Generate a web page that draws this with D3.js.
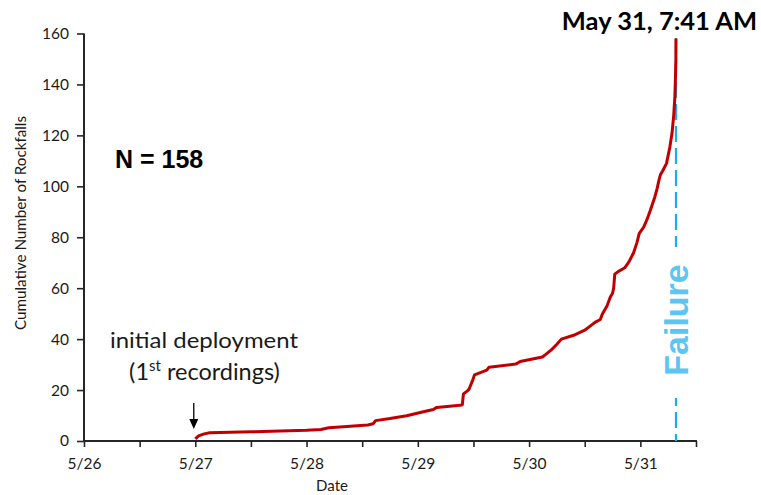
<!DOCTYPE html>
<html><head><meta charset="utf-8">
<script src="https://cdn.jsdelivr.net/npm/d3@7"></script>
<style>body{margin:0;background:#fff}svg{display:block}</style>
</head><body>
<svg id="c" width="761" height="495"></svg>
<script>
// Days since 5/26 00:00
const eventDays = [1.00,1.03,1.08,1.13,1.5,2.0,2.13,2.2,2.3,2.55,2.6,2.62,2.75,2.9,3.05,3.14,3.17,3.38,3.40,3.41,3.44,3.46,3.49,3.51,3.62,3.64,3.88,3.92,4.12,4.15,4.20,4.25,4.29,4.40,4.50,4.56,4.60,4.64,4.66,4.70,4.73,4.75,4.76,4.77,4.80,4.86,4.90,4.94,4.97,4.99,5.03,5.06,5.09,5.13,5.15,5.165,5.18,5.20,5.235,5.265,5.285,5.30,5.31,5.315,5.319,5.320];
const cumulative = [0.8,2,2.8,3.2,3.6,4.2,4.5,5.2,5.5,6.3,6.8,8,8.8,9.9,11.5,12.4,13.2,14,14.2,18.5,19.5,20.3,23.5,26,27.8,29,30.2,31.2,33,34,35.8,38,40,41.5,43.5,45.5,46.8,47.7,50,53,56.5,58,60,65.5,66.5,68,70.5,74,78,81.5,84,87,90.6,95.8,99,102,104.5,106,109,115.4,121,128,135,142,150,158];
const xTickDays = [0,1,2,3,4,5];
const xTickLabels = ["5/26","5/27","5/28","5/29","5/30","5/31"];
const yTicks = [0,20,40,60,80,100,120,140,160];
const failureDay = 5 + (7*60+41)/1440;
const deployDay = 1.0;

const svg = d3.select("#c");
const x = d3.scaleLinear().domain([0,5.5]).range([84,696]);
const y = d3.scaleLinear().domain([0,160]).range([441,33.5]);
const axisColor = "#262626";
const calib = "Lato, 'Open Sans', sans-serif";

// x axis
const xAxis = d3.axisBottom(x).tickValues(d3.range(0,5.51,0.5)).tickSize(6)
  .tickFormat(d => { const i = xTickDays.indexOf(d); return i>=0 ? xTickLabels[i] : ""; });
const gx = svg.append("g").attr("transform",`translate(0,${y(0)})`).call(xAxis);
gx.select(".domain").attr("stroke",axisColor).attr("stroke-width",2).attr("d",`M${x(0)},0H${x(5.5)+1}`);
gx.selectAll(".tick line").attr("stroke",axisColor).attr("stroke-width",1.6);
gx.selectAll(".tick text").attr("font-family",calib).attr("font-size",15.5).attr("fill","#1a1a1a").attr("dy","1.2em");

// y axis
const yAxis = d3.axisLeft(y).tickValues(yTicks).tickSize(7).tickPadding(8);
const gy = svg.append("g").attr("transform",`translate(${x(0)},0)`).call(yAxis);
gy.select(".domain").attr("stroke",axisColor).attr("stroke-width",2).attr("d",`M0,${y(160)}V${y(0)+1}`);
gy.selectAll(".tick line").attr("stroke",axisColor).attr("stroke-width",1.6);
gy.selectAll(".tick text").attr("font-family",calib).attr("font-size",15.5).attr("fill","#1a1a1a");

// axis titles
svg.append("text").attr("x",332).attr("y",491).attr("text-anchor","middle")
  .attr("font-family",calib).attr("font-size",15).attr("fill","#1a1a1a").text("Date");
svg.append("text").attr("transform","translate(26,223) rotate(-90)").attr("text-anchor","middle")
  .attr("font-family",calib).attr("font-size",15).attr("fill","#1a1a1a")
  .attr("textLength",214).attr("lengthAdjust","spacingAndGlyphs").text("Cumulative Number of Rockfalls");

// failure dashed line
svg.append("line").attr("x1",x(failureDay)).attr("x2",x(failureDay)).attr("y1",38).attr("y2",y(0))
  .attr("stroke","#1ab0e6").attr("stroke-width",2.2).attr("stroke-dasharray","16,6");
svg.append("rect").attr("x",660).attr("y",247).attr("width",34).attr("height",151).attr("fill","#fff");
svg.append("text").attr("transform",`translate(688,320) rotate(-90)`).attr("text-anchor","middle")
  .attr("font-family","'Liberation Sans', Arial, sans-serif").attr("font-weight","bold").attr("font-size",34)
  .attr("fill","#5bc6f2").text("Failure");

// data line
const pts = eventDays.map((d,i)=>[d,cumulative[i]]);
svg.append("path").datum(pts).attr("fill","none").attr("stroke","#c00000").attr("stroke-width",3)
  .attr("stroke-linejoin","round")
  .attr("d", d3.line().x(d=>x(d[0])).y(d=>y(d[1])));

// labels
svg.append("text").attr("x",757).attr("y",30).attr("text-anchor","end").attr("font-family",calib).attr("font-weight","bold")
  .attr("font-size",25.5).attr("fill","#000")
  .text("May 31, 7:41 AM");
svg.append("text").attr("x",115).attr("y",168).attr("font-family","'Liberation Sans', Arial, sans-serif")
  .attr("font-weight","bold").attr("font-size",25).attr("fill","#000").text("N = 158");

svg.append("text").attr("x",110).attr("y",348).attr("font-family",calib).attr("font-size",22)
  .attr("fill","#1a1a1a").attr("textLength",188).attr("lengthAdjust","spacingAndGlyphs").text("initial deployment");
const t2 = svg.append("text").attr("x",204.5).attr("y",380).attr("text-anchor","middle")
  .attr("font-family",calib).attr("font-size",23.5).attr("fill","#1a1a1a");
t2.append("tspan").text("(1");
t2.append("tspan").attr("font-size",15).attr("dy",-9).text("st");
t2.append("tspan").attr("dy",9).text(" recordings)");

// arrow
const ax = x(deployDay) - 1.5;
svg.append("line").attr("x1",ax).attr("x2",ax).attr("y1",403).attr("y2",420).attr("stroke","#000").attr("stroke-width",1.3);
svg.append("path").attr("d",`M${ax-4.5},419L${ax+4.5},419L${ax},429Z`).attr("fill","#000");
</script>
</body></html>
